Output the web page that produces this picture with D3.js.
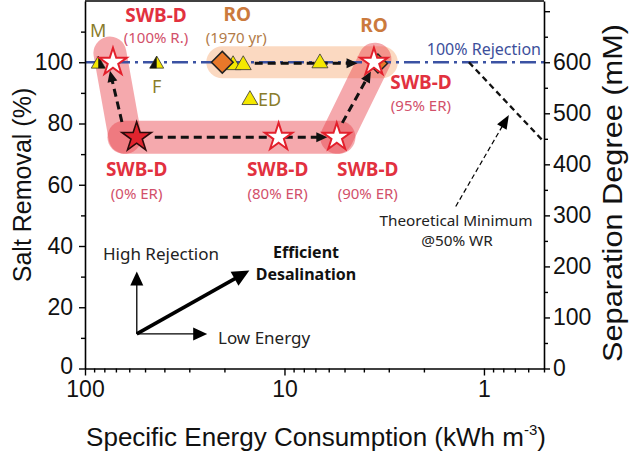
<!DOCTYPE html>
<html><head><meta charset="utf-8">
<script src="https://cdn.jsdelivr.net/npm/d3@7"></script>
<style>body{margin:0;background:#fff}svg{display:block}</style>
</head><body>
<svg id="c" width="633" height="452"></svg>
<script>
// ---------------- data ----------------
const xTicksMajor = [100, 10, 1];
const xTickLabels = ["100", "10", "1"];
const xTicksMinor = [90,80,70,60,50,40,30,20,9,8,7,6,5,4,3,2,0.9,0.8,0.7,0.6,0.5];
const yTicksMajor = [0, 20, 40, 60, 80, 100];
const yTicksMinor = [10, 30, 50, 70, 90, 110];
const y2TicksMajor = [0, 100, 200, 300, 400, 500, 600];
const y2TicksMinor = [50, 150, 250, 350, 450, 550, 650];
const y2TickTop = [700];

// SWB-D points
const swbdSub = ["(100% R.)", "(0% ER)", "(80% ER)", "(90% ER)", "(95% ER)"];
const swbdSEC = [72.4, 55.1, 10.7, 5.47, 3.56];
const swbdRemoval = [100, 75.5, 75.5, 75.5, 100];
const swbdFilled = [false, true, false, false, false];

// RO points (1970 and modern)
const roSEC = [20.5, 3.4];
const roRemoval = [100, 99.6];

// other technologies (triangles)
const techNames = ["M", "F", "", "", "", "ED"];
const techSEC = [85.8, 43.7, 18.1, 16.1, 6.64, 14.9];
const techRemoval = [99.4, 99.4, 99.1, 99.1, 99.7, 87.7];
const techHalf = ["right", "left", "", "", "", ""];

// reference lines
const rejectionLevel = 100;
const theoSEC = [1.19, 0.5];
const theoRemoval = [100, 74];

// highlight bands [SEC, removal]
const bandOrange = [[20.5, 100], [3.25, 100]];
const bandPink = [
  [[75, 103], [63, 75.5]],
  [[63.8, 75.5], [5.33, 75.5]],
  [[5.47, 75.5], [3.52, 101]]
];

// dashed path arrows [from, to]
const pathArrows = [
  [[14.1, 99.7], [4.3, 99.7]],
  [[65.3, 80.5], [75, 97.2]],
  [[44.7, 75.5], [6.1, 75.5]],
  [[5.13, 80.2], [3.69, 97]]
];
// compass arrows
const compassOrigin = [55, 11.3];
const compassUp = [55, 31.7];
const compassRight = [24.4, 11.3];
const compassDiag = [15, 32];
// theoretical minimum pointer
const theoPointer = [[1.385, 52.9], [0.75, 82.8]];

// ---------------- chart ----------------
const svg = d3.select("#c");
const x = d3.scaleLog().domain([100, 0.5]).range([85, 544]);
const y = d3.scaleLinear().domain([0, 120]).range([368.5, 1]);
const y2 = d3.scaleLinear().domain([0, 720]).range([368.5, 1]);
const P = d => [x(d[0]), y(d[1])];

const tickFont = "Liberation Sans, Arial, sans-serif";
const annFont = "'Noto Sans', 'Open Sans', sans-serif";

// bands
const gb = svg.append("g");
gb.append("line")
  .attr("x1", P(bandOrange[0])[0]).attr("y1", P(bandOrange[0])[1])
  .attr("x2", P(bandOrange[1])[0]).attr("y2", P(bandOrange[1])[1])
  .attr("stroke", "rgb(245,160,100)").attr("stroke-opacity", 0.4)
  .attr("stroke-width", 32).attr("stroke-linecap", "round");
bandPink.forEach(b => {
  gb.append("line")
    .attr("x1", P(b[0])[0]).attr("y1", P(b[0])[1])
    .attr("x2", P(b[1])[0]).attr("y2", P(b[1])[1])
    .attr("stroke", "rgb(232,64,74)").attr("stroke-opacity", 0.45)
    .attr("stroke-width", 33).attr("stroke-linecap", "round");
});

// 100% rejection line
svg.append("line")
  .attr("x1", x(100)).attr("x2", x(0.5))
  .attr("y1", y(rejectionLevel)).attr("y2", y(rejectionLevel))
  .attr("stroke", "#3b52a3").attr("stroke-width", 2.5)
  .attr("stroke-dasharray", "16,5,3,5");

// theoretical minimum line
svg.append("line")
  .attr("x1", x(theoSEC[0])).attr("y1", y(theoRemoval[0]))
  .attr("x2", x(theoSEC[1])).attr("y2", y(theoRemoval[1]))
  .attr("stroke", "#111").attr("stroke-width", 2.3)
  .attr("stroke-dasharray", "6,4");

function arrow(g, p0, p1, o) {
  const [x0, y0] = p0, [x1, y1] = p1;
  const dx = x1 - x0, dy = y1 - y0, L = Math.hypot(dx, dy);
  const ux = dx / L, uy = dy / L;
  const bx = x1 - ux * o.hl, by = y1 - uy * o.hl;
  const ln = g.append("line")
    .attr("x1", x0).attr("y1", y0)
    .attr("x2", bx + ux * 1).attr("y2", by + uy * 1)
    .attr("stroke", o.color || "#000").attr("stroke-width", o.w);
  if (o.dash) ln.attr("stroke-dasharray", o.dash);
  g.append("path")
    .attr("d", `M${x1},${y1}L${bx - uy * o.hw / 2},${by + ux * o.hw / 2}L${bx + uy * o.hw / 2},${by - ux * o.hw / 2}Z`)
    .attr("fill", o.color || "#000");
}

const ga = svg.append("g");
pathArrows.forEach(a => arrow(ga, P(a[0]), P(a[1]), {w: 3, hl: 11, hw: 10, dash: "8,5", color: "#111"}));
arrow(ga, P(compassOrigin), P(compassUp), {w: 1.3, hl: 14, hw: 13});
arrow(ga, P(compassOrigin), P(compassRight), {w: 1.3, hl: 14, hw: 13});
arrow(ga, P(compassOrigin), P(compassDiag), {w: 3.5, hl: 17, hw: 16});
arrow(ga, P(theoPointer[0]), P(theoPointer[1]), {w: 1.2, hl: 14, hw: 11, dash: "5,3"});

// triangles
function triPath(cx, cy, s, part) {
  const h = s * Math.sqrt(3) / 2;
  const top = [cx, cy - 2 * h / 3], bl = [cx - s / 2, cy + h / 3], br = [cx + s / 2, cy + h / 3], bm = [cx, cy + h / 3];
  let pts = [top, bl, br];
  if (part === "left") pts = [top, bl, bm];
  if (part === "right") pts = [top, bm, br];
  return "M" + pts.map(p => p.join(",")).join("L") + "Z";
}
const gt = svg.append("g");
techSEC.forEach((v, i) => {
  const cx = x(v), cy = y(techRemoval[i]);
  const s = i < 2 ? 14 : 16;
  gt.append("path").attr("d", triPath(cx, cy, s)).attr("fill", "#f4e800")
    .attr("stroke", "#333").attr("stroke-width", 0.8);
  if (techHalf[i]) gt.append("path").attr("d", triPath(cx, cy, s, techHalf[i])).attr("fill", "#111");
});

// RO diamonds
roSEC.forEach((v, i) => {
  svg.append("path").attr("d", d3.symbol(d3.symbolSquare, i === 0 ? 235 : 180)())
    .attr("transform", `translate(${x(v)},${y(roRemoval[i])}) rotate(45)`)
    .attr("fill", "#e8782a").attr("stroke", "#222").attr("stroke-width", 1.5);
});

// stars
swbdSEC.forEach((v, i) => {
  const filled = swbdFilled[i];
  svg.append("path")
    .attr("d", d3.symbol(d3.symbolStar, filled ? 270 : 235)())
    .attr("transform", `translate(${x(v)},${y(swbdRemoval[i])})`)
    .attr("fill", filled ? "#e0242e" : "#fff")
    .attr("stroke", filled ? "#2a0a0a" : "#e3202c")
    .attr("stroke-width", filled ? 1.6 : 2)
    .attr("stroke-linejoin", "miter");
});

// ---------------- axes ----------------
function styleAxis(g) {
  g.selectAll("path.domain").attr("stroke", "#000").attr("stroke-width", 1.6);
  g.selectAll(".tick line").attr("stroke", "#000").attr("stroke-width", 1.4);
  g.selectAll(".tick text").attr("font-family", tickFont).attr("font-size", 23).attr("fill", "#111");
}
const gx = svg.append("g").attr("transform", `translate(0,${y(0)})`);
gx.call(d3.axisBottom(x).tickValues(xTicksMajor).tickFormat((d, i) => xTickLabels[i]).tickSize(7).tickSizeOuter(0).tickPadding(5));
styleAxis(gx);
const gxm = svg.append("g").attr("transform", `translate(0,${y(0)})`);
gxm.call(d3.axisBottom(x).tickValues(xTicksMinor).tickFormat("").tickSize(4).tickSizeOuter(0));
gxm.select("path.domain").remove(); styleAxis(gxm);

const gy = svg.append("g").attr("transform", `translate(${x(100)},0)`);
gy.call(d3.axisLeft(y).tickValues(yTicksMajor).tickSize(6).tickSizeOuter(0).tickPadding(6));
styleAxis(gy);
gy.selectAll(".tick text").filter(d => d === 0).attr("dy", "0.22em");
const gym = svg.append("g").attr("transform", `translate(${x(100)},0)`);
gym.call(d3.axisLeft(y).tickValues(yTicksMinor).tickFormat("").tickSize(4).tickSizeOuter(0));
gym.select("path.domain").remove(); styleAxis(gym);

const gr = svg.append("g").attr("transform", `translate(${x(0.5)},0)`);
gr.call(d3.axisRight(y2).tickValues(y2TicksMajor).tickSize(6).tickSizeOuter(0).tickPadding(3));
styleAxis(gr);
const grm = svg.append("g").attr("transform", `translate(${x(0.5)},0)`);
grm.call(d3.axisRight(y2).tickValues(y2TicksMinor).tickFormat("").tickSize(4).tickSizeOuter(0));
grm.select("path.domain").remove(); styleAxis(grm);
const grt = svg.append("g").attr("transform", `translate(${x(0.5)},0)`);
grt.call(d3.axisRight(y2).tickValues(y2TickTop).tickFormat("").tickSize(6).tickSizeOuter(0));
grt.select("path.domain").remove(); styleAxis(grt);

// top frame
svg.append("line").attr("x1", x(100)).attr("x2", x(0.5)).attr("y1", y(120)).attr("y2", y(120))
  .attr("stroke", "#000").attr("stroke-width", 1.6);

// titles
const xt = svg.append("text").attr("x", 316).attr("y", 446).attr("text-anchor", "middle")
  .attr("font-family", tickFont).attr("font-size", 26).attr("fill", "#111");
xt.append("tspan").text("Specific Energy Consumption (kWh m");
xt.append("tspan").attr("font-size", 15).attr("dy", -11).text("-3");
xt.append("tspan").attr("dy", 11).text(")");
svg.append("text").attr("transform", "translate(31,185) rotate(-90)").attr("text-anchor", "middle")
  .attr("font-family", tickFont).attr("font-size", 25).attr("fill", "#111").text("Salt Removal (%)");
svg.append("text").attr("transform", "translate(622,193) rotate(-90)").attr("text-anchor", "middle")
  .attr("font-family", tickFont).attr("font-size", 28).attr("fill", "#111")
  .attr("textLength", 338).attr("lengthAdjust", "spacingAndGlyphs").text("Separation Degree (mM)");

// ---------------- labels ----------------
function label(px, py, txt, size, color, weight, anchor) {
  svg.append("text").attr("x", px).attr("y", py).attr("dy", "0.35em")
    .attr("text-anchor", anchor || "middle")
    .attr("font-family", annFont).attr("font-size", size)
    .attr("font-weight", weight || "normal").attr("fill", color).text(txt);
}
const red = "#e2313f", redSub = "#d2506a";
const swbdOff = [[43, -47, -25], [0, 32, 56], [-1, 32, 56], [31, 32, 56], [47, 20, 43]];
swbdSEC.forEach((v, i) => {
  const px = x(v), py = y(swbdRemoval[i]);
  const o = swbdOff[i];
  label(px + o[0], py + o[1], "SWB-D", 19, red, "bold");
  label(px + o[0], py + o[2], swbdSub[i], 15, redSub);
});
label(x(roSEC[0]) + 15, y(roRemoval[0]) - 48, "RO", 19, "#cb7a3d", "bold");
label(x(roSEC[0]) + 14, y(roRemoval[0]) - 25, "(1970 yr)", 15, "#b27b48");
label(x(roSEC[1]) - 4, y(roRemoval[1]) - 38, "RO", 19, "#cb7a3d", "bold");

const olive = "#8a7c2c";
label(x(techSEC[0]), y(techRemoval[0]) - 33, techNames[0], 18, olive);
label(x(techSEC[1]), y(techRemoval[1]) + 23, techNames[1], 18, olive);
label(x(techSEC[5]) + 8, y(techRemoval[5]), techNames[5], 18, olive, "normal", "start");

label(x(0.5) - 3, y(rejectionLevel) - 13, "100% Rejection", 16, "#3d4f9b", "normal", "end");

label(456, 221, "Theoretical Minimum", 15.3, "#222");
label(457, 241, "@50% WR", 15.3, "#222");
label(161, 254, "High Rejection", 17, "#222");
label(218, 338, "Low Energy", 17, "#222", "normal", "start");
label(306, 252, "Efficient", 16, "#111", "bold");
label(306, 274, "Desalination", 16, "#111", "bold");
</script>
</body></html>
